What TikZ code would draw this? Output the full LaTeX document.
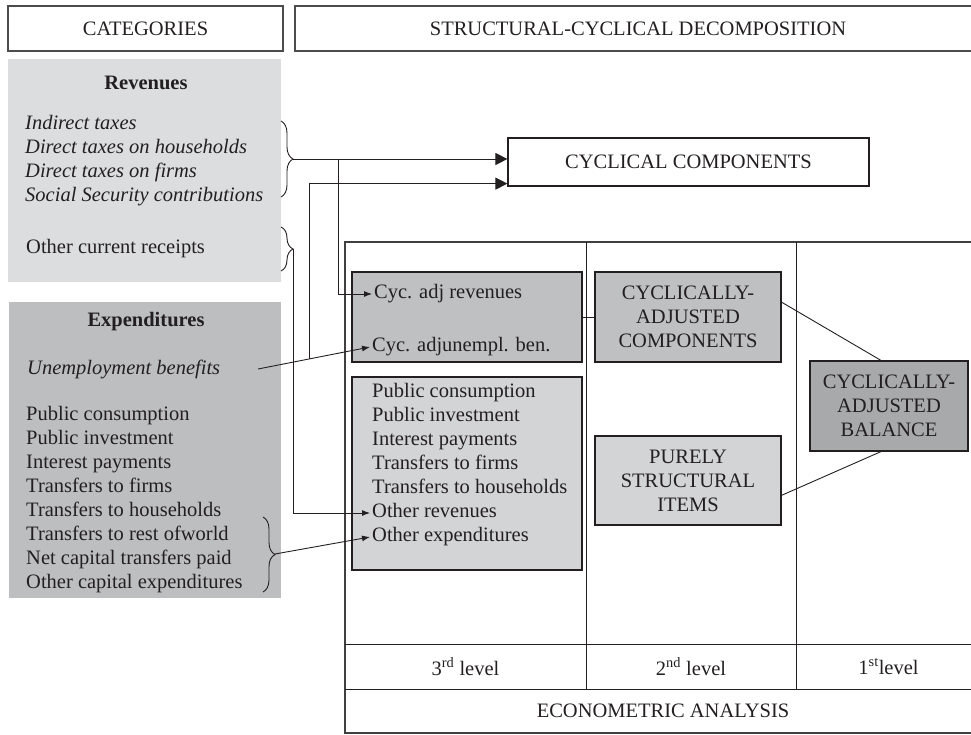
\documentclass[tikz,border=0pt]{standalone}
\usepackage{fontspec}
\setmainfont{Liberation Serif}
\usetikzlibrary{arrows.meta,decorations.pathreplacing,calc}
\definecolor{rev-grey}{HTML}{DCDDDF}
\definecolor{exp-grey}{HTML}{BDBEC0}
\definecolor{light-grey}{HTML}{D3D4D6}
\definecolor{mid-grey}{HTML}{BFC0C2}
\definecolor{dark-grey}{HTML}{A8A9AB}
\definecolor{ink}{HTML}{231F20}
\tikzset{
    head-box/.style = {draw=black!70, line width=1.2pt, minimum height=45pt, inner sep=0pt},
    panel/.style = {inner sep=0pt, minimum width=#1},
    shade-box/.style = {draw=ink, line width=1.2pt, inner sep=0pt, align=center},
    list-item/.style = {anchor=west, inner sep=0pt, text height=14pt, text depth=5pt},
    item/.style = {list-item, inner xsep=2pt},
    thin-arrow/.style = {draw=ink, line width=0.9pt, -{Latex[length=8pt,width=6pt]}},
    big-arrow/.style = {draw=ink, line width=1pt, -{Triangle[length=12pt,width=12pt]}},
    curly/.style = {draw=ink, decorate, decoration={brace, amplitude=12pt}, line width=0.9pt},
}

\begin{document}
\begin{tikzpicture}[x=1pt, y=-1pt, text=ink, font=\fontsize{20.5}{24}\selectfont]
\useasboundingbox (0,0) rectangle (971,734);

% headings
\node[head-box, minimum width=275pt] (cat) at (145.5,28.5) {CATEGORIES};
\node[head-box, minimum width=686pt] (decomp) at (638,28.5) {STRUCTURAL-CYCLICAL DECOMPOSITION};

% left panels
\node[panel=273pt, fill=rev-grey, minimum height=223pt] (revpanel) at (144.5,170.5) {};
\node[panel=272pt, fill=exp-grey, minimum height=296pt] (exppanel) at (145,450) {};
\node (revtitle) at (146,83) {\textbf{Revenues}};
\foreach \t [count=\i] in {Indirect taxes, Direct taxes on households, Direct taxes on firms, Social Security contributions}
    \node[list-item] (r\i) at (25,101+24*\i) {\textit{\t}};
\node[list-item] (revother) at (26,249) {Other current receipts};
\node (exptitle) at (146,322) {\textbf{Expenditures}};
\node[list-item] (unemp) at (27,370) {\textit{Unemployment benefits}};
\foreach \t [count=\i] in {Public consumption, Public investment, Interest payments, Transfers to firms, Transfers to households, Transfers to rest ofworld, Net capital transfers paid, Other capital expenditures}
    \node[list-item] (e\i) at (26,392+24*\i) {\t};

% braces
\draw[curly] (281,121) -- (281,197);
\draw[curly] (281,227) -- (281,271);
\draw[curly] (263,517) -- (263,592);
\coordinate (t1) at (293,159);
\coordinate (t2) at (293,249);
\coordinate (t3) at (275,554);

% cyclical components
\node[draw=ink, line width=1.2pt, minimum width=361pt, minimum height=48pt] (cyc) at (688.5,162) {CYCLICAL COMPONENTS};

% econometric table
\draw[draw=black!75, line width=1.1pt] (345,242) rectangle (981,733);
\draw[draw=ink, line width=1pt] (345,644) -- (981,644) (345,689) -- (981,689)
    (586,242) -- (586,689) (796,242) -- (796,689);
\node (lev3) at (465.5,666.5) {3\textsuperscript{rd} level};
\node (lev2) at (691,666.5) {2\textsuperscript{nd} level};
\node (lev1) at (888.5,666.5) {1\textsuperscript{st}level};
\node (econ) at (663,711) {ECONOMETRIC ANALYSIS};

% third level
\node[shade-box, fill=mid-grey, minimum width=230pt, minimum height=90pt] (adj) at (467,317) {};
\node[shade-box, fill=light-grey, minimum width=230pt, minimum height=193pt] (struct) at (467,473.5) {};
\node[item] (cycrev) at (372,294) {Cyc. adj revenues};
\node[item] (cycben) at (370,347) {Cyc. adjunempl. ben.};
\foreach \t [count=\i] in {Public consumption, Public investment, Interest payments, Transfers to firms, Transfers to households, Other revenues, Other expenditures}
    \node[item] (b\i) at (370,369+24*\i) {\t};

% second and first level
\node[shade-box, fill=mid-grey, minimum width=186pt, minimum height=90pt] (cacomp) at (688,317) {CYCLICALLY-\\ADJUSTED\\COMPONENTS};
\node[shade-box, fill=light-grey, minimum width=186pt, minimum height=89pt] (pure) at (688,480.5) {PURELY\\STRUCTURAL\\ITEMS};
\node[shade-box, fill=dark-grey, minimum width=158pt, minimum height=90pt] (cabal) at (889,406) {CYCLICALLY-\\ADJUSTED\\BALANCE};

% connectors
\coordinate (u0) at (258,369);
\coordinate (j1) at (t1 -| 338,0);
\coordinate (j2) at ($(u0)!0.46!(cycben.west)$);
\draw[big-arrow] (t1) -- (t1 -| cyc.west);
\draw[big-arrow] (j2) |- ($(cyc.south west)+(0,-3)$);
\draw[thin-arrow] (j1) |- (cycrev.west);
\draw[thin-arrow] (u0) -- (cycben.west);
\draw[thin-arrow] (t2) |- (b6.west);
\draw[thin-arrow] (t3) -- (b7.west);
\draw[draw=ink, line width=0.9pt] (adj) -- (cacomp);
\draw[draw=ink, line width=0.9pt] (cacomp.9) -- (cabal.100);
\draw[draw=ink, line width=0.9pt] (pure.-9) -- (cabal.-100);
\end{tikzpicture}
\end{document}
